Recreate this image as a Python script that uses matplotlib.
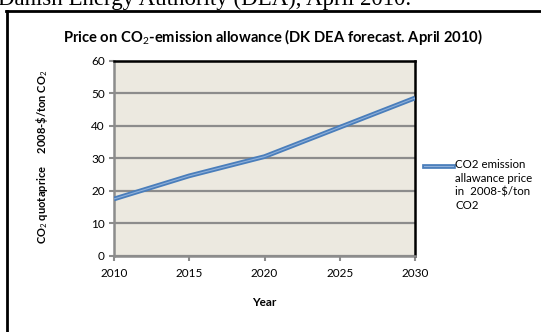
import matplotlib
matplotlib.use("Agg")
import matplotlib.pyplot as plt
from matplotlib.lines import Line2D

years = [2010, 2015, 2020, 2025, 2030]
price = [17.5, 24.6, 30.5, 39.5, 48.5]
yticks = [0, 10, 20, 30, 40, 50, 60]
xticks = [2010, 2015, 2020, 2025, 2030]
title = "Price on CO$_2$-emission allowance (DK DEA forecast. April 2010)"
ylabel = "CO$_2$ quotaprice     2008-\\$/ton CO$_2$"
legend_label = "CO2 emission\nallawance price\nin  2008-$/ton\nCO2"

plt.rcParams['font.family'] = ['Lato', 'DejaVu Sans']
plt.rcParams['mathtext.fontset'] = 'custom'
plt.rcParams['mathtext.rm'] = 'Lato'
plt.rcParams['mathtext.bf'] = 'Lato:bold'
W, H = 541, 332
fig = plt.figure(figsize=(W/100, H/100), dpi=100)
ax = fig.add_axes([114/W, 1-256/H, (415-114)/W, (256-60.5)/H])
ax.set_facecolor('#ECE9E0')

ax.plot(years, price, color='#4A7EBB', lw=3.4, solid_capstyle='butt', zorder=3)
ax.plot(years, price, color='#8FB0DA', lw=0.8, solid_capstyle='butt', zorder=4)

ax.set_xlim(2010, 2030)
ax.set_ylim(0, 60)
ax.set_xticks(xticks)
ax.set_yticks(yticks)
ax.tick_params(axis='both', colors='#8C8C8C', labelcolor='black', labelsize=8.5, length=3.5, width=1.5)
ax.tick_params(axis='x', pad=5)
ax.tick_params(axis='y', pad=3)
ax.yaxis.grid(True, color='#8C8C8C', lw=1.6)
ax.set_axisbelow(True)
for s in ['left', 'bottom']:
    ax.spines[s].set_color('#8C8C8C')
    ax.spines[s].set_linewidth(1.8)
for s in ['top', 'right']:
    ax.spines[s].set_color('black')
    ax.spines[s].set_linewidth(1.8)

fig.text(264/W, 1-303/H, 'Year', ha='center', va='center', fontsize=8.5, fontweight='bold')
fig.text(42/W, 1-157/H, ylabel, rotation=90,
         ha='center', va='center', fontsize=8, fontweight='bold')
fig.text(273/W, 1-37/H, title, ha='center', va='center', fontsize=10.6, fontweight='bold')

# legend
fig.add_artist(Line2D([424/W, 453/W], [1-166/H, 1-166/H], color='#4A7EBB', lw=3.4))
fig.add_artist(Line2D([424/W, 453/W], [1-166/H, 1-166/H], color='#8FB0DA', lw=0.8))
fig.text(455/W, 1-159/H, legend_label, ha='left', va='top', fontsize=8.3, linespacing=1.3)

# outer frame
fig.add_artist(Line2D([7/W, 7/W], [0, 1-10.5/H], color='black', lw=2))
fig.add_artist(Line2D([6/W, 1], [1-10.5/H, 1-10.5/H], color='black', lw=2))

# clipped header text from page
fig.text(-2/W, 1-5/H, 'Danish Energy Authority (DEA), April 2010.', ha='left', va='baseline',
         fontsize=16.5, family='Liberation Serif')

fig.savefig('out.png', dpi=100)
